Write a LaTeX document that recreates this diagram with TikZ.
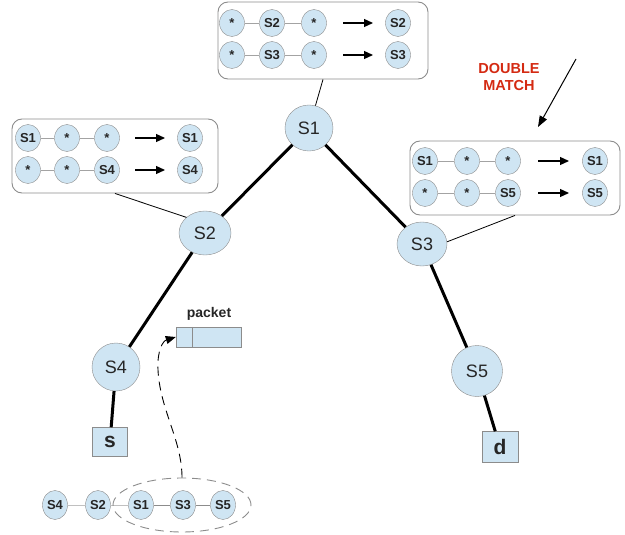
\documentclass[tikz,border=0pt]{standalone}
\usepackage{fontspec}
\setmainfont{Liberation Sans}
\usetikzlibrary{shapes.geometric,arrows.meta}
\definecolor{nodeblue}{HTML}{CFE5F3}
\definecolor{edgegray}{HTML}{8C8C8C}
\definecolor{txt}{HTML}{262626}
\definecolor{redtxt}{HTML}{D42A12}
\tikzset{
  big/.style={ellipse, draw=edgegray, fill=nodeblue, inner sep=0pt, text=txt,
    font=\fontsize{18}{18}\selectfont},
  small/.style={ellipse, draw=edgegray, fill=nodeblue, inner sep=0pt, text=txt,
    minimum width=25pt, minimum height=27pt, font=\bfseries\fontsize{13}{13}\selectfont},
  host/.style={rectangle, draw=edgegray, fill=nodeblue, inner sep=0pt, text=txt,
    font=\bfseries\fontsize{21}{21}\selectfont},
  rulebox/.style={rectangle, draw=edgegray, rounded corners=10pt, fill=white, line width=0.9pt},
  link/.style={draw=edgegray!80, line width=0.9pt},
  thick link/.style={draw=black, line width=3pt},
  thin link/.style={draw=black, line width=0.8pt},
  maparrow/.style={draw=black, line width=1.2pt, -{Triangle[length=9pt,width=8pt]}},
}
\begin{document}
\begin{tikzpicture}[x=1pt,y=-1pt]
\useasboundingbox (0,0) rectangle (625,535);

% rule boxes
\node[rulebox, minimum width=210pt, minimum height=77pt] (tb) at (323,40.5) {};
\node[rulebox, minimum width=206pt, minimum height=74pt] (lb) at (115,156) {};
\node[rulebox, minimum width=210pt, minimum height=74pt] (rb) at (515,178) {};

% top box rows
\node[small] (t11) at (232,23) {*};
\node[small] (t12) at (272,23) {S2};
\node[small] (t13) at (314,23) {*};
\node[small] (t14) at (398,23) {S2};
\coordinate (ta1s) at (343,23); \coordinate (ta1e) at (373,23);
\node[small] (t21) at (232,55) {*};
\node[small] (t22) at (272,55) {S3};
\node[small] (t23) at (314,55) {*};
\node[small] (t24) at (398,55) {S3};
\coordinate (ta2s) at (343,55); \coordinate (ta2e) at (373,55);
\draw[link] (t11) -- (t12) -- (t13) (t21) -- (t22) -- (t23);
\draw[maparrow] (ta1s) -- (ta1e);
\draw[maparrow] (ta2s) -- (ta2e);

% left box rows
\node[small] (l11) at (28,138) {S1};
\node[small] (l12) at (67,138) {*};
\node[small] (l13) at (107,138) {*};
\node[small] (l14) at (190,138) {S1};
\coordinate (la1s) at (135,138); \coordinate (la1e) at (165,138);
\node[small] (l21) at (28,170) {*};
\node[small] (l22) at (67,170) {*};
\node[small] (l23) at (107,170) {S4};
\node[small] (l24) at (190,170) {S4};
\coordinate (la2s) at (135,170); \coordinate (la2e) at (165,170);
\draw[link] (l11) -- (l12) -- (l13) (l21) -- (l22) -- (l23);
\draw[maparrow] (la1s) -- (la1e);
\draw[maparrow] (la2s) -- (la2e);

% right box rows
\node[small] (r11) at (425,161) {S1};
\node[small] (r12) at (467,161) {*};
\node[small] (r13) at (508,161) {*};
\node[small] (r14) at (595,161) {S1};
\coordinate (ra1s) at (538,161); \coordinate (ra1e) at (569,161);
\node[small] (r21) at (425,193) {*};
\node[small] (r22) at (467,193) {*};
\node[small] (r23) at (508,193) {S5};
\node[small] (r24) at (595,193) {S5};
\coordinate (ra2s) at (538,193); \coordinate (ra2e) at (569,193);
\draw[link] (r11) -- (r12) -- (r13) (r21) -- (r22) -- (r23);
\draw[maparrow] (ra1s) -- (ra1e);
\draw[maparrow] (ra2s) -- (ra2e);

% tree nodes
\node[big, minimum width=48pt, minimum height=46pt] (S1) at (309,128) {S1};
\node[big, minimum width=52pt, minimum height=44pt] (S2) at (205,233) {S2};
\node[big, minimum width=50pt, minimum height=44pt] (S3) at (422,244) {S3};
\node[big, minimum width=48pt, minimum height=48pt] (S4) at (116,367) {S4};
\node[big, minimum width=51pt, minimum height=51pt] (S5) at (477,371) {S5};
\node[host, minimum width=35pt, minimum height=29pt] (s) at (110,442) {s};
\node[host, minimum width=36pt, minimum height=31pt] (d) at (500,447) {d};

\draw[thick link] (S1) -- (S2);
\draw[thick link] (S1) -- (S3);
\draw[thick link] (S2) -- (S4);
\draw[thick link] (S4) -- (s);
\draw[thick link] (S3) -- (S5);
\draw[thick link] (S5) -- (d);

% box connectors
\draw[thin link] (tb.south) -- (S1);
\draw[thin link] (lb.south) -- (S2.140);
\draw[thin link] (rb.south) -- (S3.5);

% double match
\node[text=redtxt, font=\bfseries\fontsize{14.5}{17}\selectfont, align=center] (dm) at (509,77) {DOUBLE\\MATCH};
\coordinate (dms) at (576,59);
\coordinate (dme) at (538,127);
\draw[draw=black, line width=1pt, -{Triangle[length=11pt,width=8pt]}] (dms) -- (dme);

% packet
\node[text=txt, font=\bfseries\fontsize{14}{14}\selectfont] (plabel) at (209,314) {packet};
\node[rectangle, draw=edgegray, fill=nodeblue, minimum width=65pt, minimum height=20pt, inner sep=0pt] (pkt) at (208.5,337) {};
\draw[draw=edgegray, line width=0.8pt] (pkt.north west) ++(17,0) -- ++(0,20);

% bottom chain
\node[small, minimum height=29pt] (c1) at (55,505) {S4};
\node[small, minimum height=29pt] (c2) at (98,505) {S2};
\node[small, minimum height=29pt] (c3) at (141,505) {S1};
\node[small, minimum height=29pt] (c4) at (183,505) {S3};
\node[small, minimum height=29pt] (c5) at (223,505) {S5};
\draw[link, draw=edgegray!55] (c1) -- (c2) -- (c3);
\draw[link, draw=edgegray] (c3) -- (c4) -- (c5);

\node[ellipse, draw=edgegray, dash pattern=on 9pt off 6pt, line width=0.9pt,
  minimum width=138pt, minimum height=54pt, inner sep=0pt] (sel) at (182,505) {};

\coordinate (bend) at (158,370);
\draw[draw=black, line width=0.9pt, dash pattern=on 9pt off 6pt, -{Triangle[length=10pt,width=8pt]}]
  (sel.north) .. controls (182,440) and (160,410) .. (bend)
  .. controls (157,350) and (163,341) .. (pkt.west);
\end{tikzpicture}
\end{document}
